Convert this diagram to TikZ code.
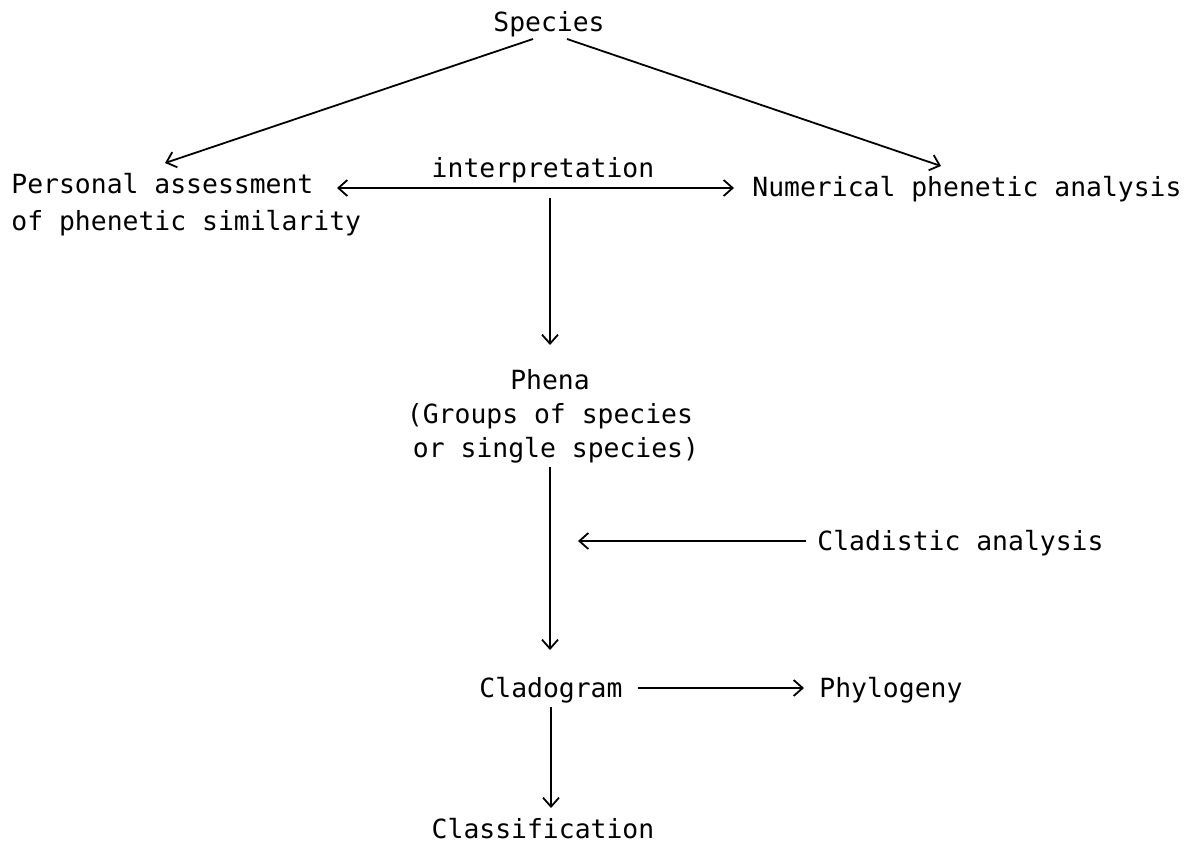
\documentclass[tikz,border=0pt]{standalone}
\usepackage{fontspec}
\newfontfamily\tw{DejaVu Sans Mono}
\usetikzlibrary{arrows.meta}
\begin{document}
\begin{tikzpicture}[x=0.5pt,y=-0.5pt,
  lbl/.style={inner sep=0pt, font=\tw\fontsize{13.2}{18.5}\selectfont},
  conn/.style={line width=0.9pt, -{Straight Barb[length=4.5pt,width=8pt,line width=0.9pt]}},
  both/.style={line width=0.9pt, {Straight Barb[length=4.5pt,width=8pt,line width=0.9pt]}-{Straight Barb[length=4.5pt,width=8pt,line width=0.9pt]}}
  ]
\useasboundingbox (0,0) rectangle (1200,843);
% nodes
\node[lbl,anchor=base] (species) at (549,31) {Species};
\node[lbl,anchor=west,align=left] (personal) at (11,205) {Personal assessment\\of phenetic similarity};
\node[lbl,anchor=base] (interp) at (543,177) {interpretation};
\node[lbl,anchor=base west] (numerical) at (752,196) {Numerical phenetic analysis};
\node[lbl,align=center,font=\tw\fontsize{13.2}{17}\selectfont] (phena) at (550,416)
  {Phena\\(Groups of species\hspace*{6pt}\\\hspace*{6pt}or single species)};
\node[lbl,anchor=base west] (cladistic) at (817,550) {Cladistic analysis};
\node[lbl,anchor=base] (cladogram) at (551,697) {Cladogram};
\node[lbl,anchor=base west] (phylogeny) at (819,697) {Phylogeny};
\node[lbl,anchor=base] (classification) at (543,838) {Classification};
% connector ends
\coordinate (sL) at (533,39);
\coordinate (sR) at (567,39);
\coordinate (pT) at (165,163);
\coordinate (nT) at (941,166);
\coordinate (iL) at (337,188);
\coordinate (iR) at (734,188);
\coordinate (iM) at (550,198);
\coordinate (phT) at (550,345);
\coordinate (phB) at (550,467);
\coordinate (cgT) at (550,650);
\coordinate (caS) at (806,541);
\coordinate (caT) at (578,541);
\coordinate (cgR) at (638,688);
\coordinate (pyT) at (804,688);
\coordinate (cgB) at (551,707);
\coordinate (clT) at (551,808);
% connectors
\draw[conn] (sL) -- (pT);
\draw[conn] (sR) -- (nT);
\draw[both] (iL) -- (iR);
\draw[conn] (iM) -- (phT);
\draw[conn] (phB) -- (cgT);
\draw[conn] (caS) -- (caT);
\draw[conn] (cgR) -- (pyT);
\draw[conn] (cgB) -- (clT);
\end{tikzpicture}
\end{document}
